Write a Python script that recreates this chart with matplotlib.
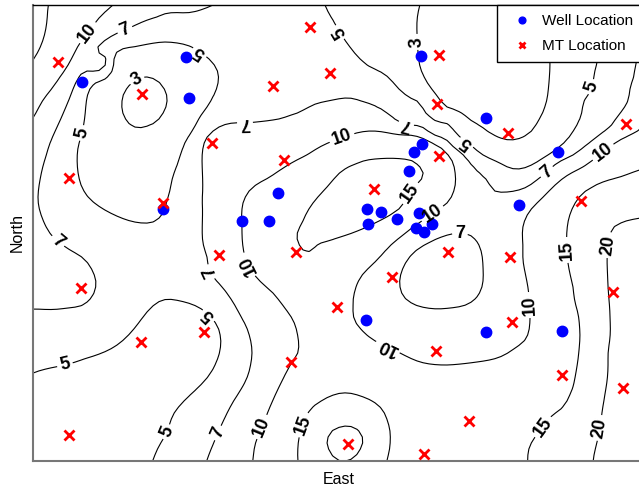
import numpy as np
import matplotlib.pyplot as plt

plt.rcParams['font.family'] = ['Liberation Sans', 'DejaVu Sans']

# station positions, east / north in grid units
well_east = [49, 153, 156, 130, 209, 236, 245, 388, 453, 525, 486, 389, 381,
             376, 334, 348, 335, 364, 386, 399, 383, 391, 333, 453, 529]
well_north = [379, 404, 363, 252, 240, 240, 268, 405, 343, 309, 256, 317, 309,
              290, 252, 249, 237, 242, 248, 237, 233, 229, 141, 129, 130]

mt_east = [277, 25, 240, 109, 179, 251, 36, 130, 297, 406, 404, 475, 593, 406,
           341, 548, 186, 263, 48, 171, 108, 258, 36, 415, 477, 359, 304, 580,
           479, 403, 529, 590, 436, 315, 391]
mt_north = [434, 399, 375, 367, 318, 301, 283, 258, 388, 406, 357, 328, 337, 305,
            272, 260, 206, 209, 173, 129, 119, 99, 26, 209, 204, 184, 154, 169,
            139, 110, 86, 73, 40, 17, 7]

levels = [3, 5, 7, 10, 15, 20]

# points picked along each contour line
line_3 = [(114, 384), (130, 374), (134, 361), (130, 348), (114, 335), (102, 334),
          (92, 343), (89, 358), (94, 373), (100, 379),
          (387, 456), (384, 428), (387, 394), (397, 374), (414, 354), (437, 341),
          (457, 328), (474, 321), (490, 324), (504, 338), (514, 361), (517, 394),
          (517, 421), (517, 456)]

line_5 = [(52, 346), (64, 379), (80, 401), (100, 414), (130, 419), (154, 416),
          (167, 409), (177, 401), (185, 388), (184, 374), (174, 354), (160, 331),
          (147, 304), (139, 281), (134, 261), (130, 248), (124, 241), (110, 238),
          (94, 241), (67, 254), (52, 268), (45, 288), (45, 314), (49, 328),
          (0, 88), (17, 93), (32, 96), (54, 103), (84, 116), (100, 131), (114, 149),
          (130, 161), (147, 160), (167, 153), (176, 146), (184, 136), (188, 119),
          (185, 103), (174, 83), (154, 63), (140, 46), (134, 29), (125, 13), (120, 1),
          (292, 456), (300, 441), (307, 429), (317, 414), (337, 394), (364, 374),
          (387, 358), (414, 338), (434, 319), (447, 308), (467, 298), (477, 293),
          (494, 294), (520, 309), (542, 333), (550, 358), (559, 374), (564, 398),
          (567, 421), (570, 444), (572, 456)]

line_7 = [(180, 456), (154, 448), (124, 444), (107, 438), (92, 431), (77, 424),
          (64, 408), (50, 389), (37, 364), (24, 334), (14, 308), (7, 281), (5, 261),
          (10, 241), (20, 224), (37, 211), (50, 203), (60, 189), (63, 179), (60, 166),
          (50, 156), (34, 153), (0, 152),
          (174, 1), (177, 9), (185, 28), (200, 59), (214, 83), (219, 106), (217, 123),
          (207, 146), (190, 173), (177, 189), (174, 204), (170, 218), (169, 261),
          (169, 304), (172, 321), (184, 333), (200, 338), (212, 338), (224, 339),
          (250, 343), (267, 349), (280, 356), (300, 361), (317, 363), (334, 358),
          (354, 348), (373, 336), (400, 326), (420, 314), (437, 298), (454, 281),
          (460, 271), (474, 269), (494, 274), (514, 289), (524, 298), (540, 306),
          (560, 321), (577, 334), (584, 344), (594, 358), (597, 368), (600, 381),
          (604, 401), (605, 416),
          (427, 228), (437, 226), (447, 214), (450, 194), (449, 174), (437, 158),
          (417, 153), (394, 153), (374, 161), (367, 174), (369, 191), (380, 208),
          (397, 219), (414, 226)]

line_10 = [(80, 456), (67, 444), (55, 428), (47, 418), (34, 394), (20, 374),
           (10, 361), (0, 343),
           (606, 331), (587, 321), (570, 309), (550, 294), (520, 274), (500, 254),
           (490, 234), (490, 216), (490, 201), (495, 174), (497, 156), (497, 141),
           (494, 124), (482, 113), (467, 104), (444, 99), (414, 96), (387, 99),
           (367, 108), (355, 114), (344, 119), (327, 133), (320, 146), (320, 163),
           (327, 183), (344, 201), (360, 218), (380, 234), (400, 248), (414, 258),
           (421, 271), (422, 288), (417, 304), (407, 314), (394, 321), (377, 326),
           (350, 329), (324, 328), (309, 323), (287, 314), (274, 306), (264, 301),
           (237, 284), (217, 271), (210, 258), (209, 234), (210, 214), (215, 196),
           (224, 183), (240, 168), (260, 141), (265, 123), (264, 106), (259, 99),
           (247, 76), (237, 54), (229, 34), (222, 16), (220, 1)]

line_15 = [(15, 456), (10, 421), (0, 401),
           (274, 209), (287, 218), (307, 224), (334, 234), (354, 244), (367, 253),
           (377, 268), (385, 278), (390, 284), (387, 294), (377, 301), (357, 303),
           (334, 301), (310, 291), (294, 274), (280, 258), (269, 238), (265, 231),
           (265, 218),
           (265, 0), (265, 14), (270, 36), (277, 51), (290, 61), (310, 68), (330, 64),
           (347, 54), (355, 38), (357, 21), (354, 1),
           (606, 291), (587, 284), (567, 278), (550, 268), (540, 254), (534, 231),
           (534, 211), (535, 198), (540, 174), (545, 148), (547, 124), (545, 101),
           (540, 74), (530, 54), (517, 44), (510, 34), (500, 21), (495, 8), (495, 0)]

line_20 = [(297, 28), (307, 34), (320, 34), (327, 29), (330, 21), (327, 11),
           (320, 3), (305, 1), (297, 9), (294, 19),
           (606, 243), (590, 239), (580, 233), (575, 216), (574, 203), (575, 174),
           (577, 141), (575, 108), (572, 68), (569, 49), (567, 33), (562, 11), (560, 0)]

# spot readings away from the lines
spot_east = [0, 112, 452, 447, 0, 67, 25, 0, 0, 237, 237, 87, 202, 160, 192,
             327, 297, 357, 307, 287, 247, 417, 417, 519, 557, 593, 606, 606, 587,
             447, 467, 367, 410, 267, 312, 606, 606, 367, 327, 540, 579, 347, 127, 67]
spot_north = [456, 358, 401, 351, 0, 41, 180, 320, 211, 456, 391, 201, 103, 261, 281,
              261, 241, 281, 161, 101, 21, 51, 11, 161, 161, 161, 111, 261, 306,
              241, 241, 131, 186, 326, 16, 0, 371, 401, 441, 401, 391, 371, 456, 401]
spot_value = [17.5, 2.2, 2.0, 2.6, 3.8, 4.0, 8.0, 8.3, 7.8, 6.0, 6.0, 6.0, 6.0, 6.0, 8.5,
              17.0, 16.5, 16.5, 12.0, 11.5, 12.5, 13.0, 13.5, 12.5, 17.5, 21.5, 22.5, 17.5, 12.5,
              7.8, 8.5, 8.5, 6.0, 8.5, 21.5, 22.0, 8.5, 4.0, 4.0, 4.0, 6.0, 6.0, 7.5, 8.5]

# contour labels: where they sit, and which ones read upside down
label_pos = [(55, 428), (92, 431), (104, 381), (167, 409), (49, 328), (22, 216),
             (32, 96), (176, 146), (134, 29), (185, 28), (229, 34), (270, 36),
             (177, 189), (215, 196), (212, 338), (309, 323), (377, 268), (399, 248),
             (427, 228), (355, 114), (497, 156), (510, 34), (534, 211), (567, 33),
             (575, 216), (373, 336), (307, 429), (383, 419), (434, 319), (514, 289),
             (570, 309), (559, 374)]
label_flip = [False, False, False, True, False, False,
              False, True, False, False, False, False,
              True, True, True, False, False, False,
              False, True, False, False, False, False,
              False, True, True, False, True, False,
              False, False]


def collect_points():
    xs, ys, vs = [], [], []
    for lev, pts in zip(levels, [line_3, line_5, line_7, line_10, line_15, line_20]):
        for e, n in pts:
            xs.append(e)
            ys.append(n)
            vs.append(lev)
    xs += spot_east
    ys += spot_north
    vs += spot_value
    return np.array(xs, float), np.array(ys, float), np.array(vs, float)


def tps_kernel(r):
    return np.where(r > 0, r ** 2 * np.log(np.maximum(r, 1e-12)), 0.0)


def tps_surface(x, y, v, gx, gy, smooth=1e-5):
    s = 600.0
    x, y = x / s, y / s
    n = len(x)
    K = tps_kernel(np.hypot(x[:, None] - x[None, :], y[:, None] - y[None, :]))
    K += smooth * np.eye(n)
    P = np.column_stack([np.ones(n), x, y])
    A = np.zeros((n + 3, n + 3))
    A[:n, :n] = K
    A[:n, n:] = P
    A[n:, :n] = P.T
    coef = np.linalg.solve(A, np.concatenate([v, np.zeros(3)]))
    w, a = coef[:n], coef[n:]
    qx, qy = gx.ravel() / s, gy.ravel() / s
    Kq = tps_kernel(np.hypot(qx[:, None] - x[None, :], qy[:, None] - y[None, :]))
    z = Kq @ w + a[0] + a[1] * qx + a[2] * qy
    return z.reshape(gx.shape)


px, py, pv = collect_points()
ge = np.linspace(0, 612, 103)
gn = np.linspace(0, 456, 77)
GE, GN = np.meshgrid(ge, gn)
Z = tps_surface(px, py, pv, GE, GN)

fig = plt.figure(figsize=(6.39, 4.9), dpi=100)
ax = fig.add_axes([33 / 639, 29 / 490, 612 / 639, 456 / 490])

cs = ax.contour(GE, GN, Z, levels=levels, colors='black', linewidths=0.8)
texts = cs.clabel(fmt='%d', fontsize=13, manual=label_pos, inline=True, inline_spacing=3)
for t, flip in zip(texts, label_flip):
    t.set_fontweight('bold')
    rot = t.get_rotation() % 360
    if flip:
        rot += 180
    elif 240 < rot < 300:
        # steep labels read upwards
        rot -= 180
    t.set_rotation(rot)

ax.plot(well_east, well_north, 'o', color='blue', ms=7.5, zorder=3, label='Well Location')
ax.plot(mt_east, mt_north, 'x', color='red', ms=6.5, mew=2, zorder=3, label='MT Location')

ax.set_xlim(0, 612)
ax.set_ylim(0, 456)
ax.set_xticks([])
ax.set_yticks([])
ax.spines['right'].set_visible(False)
ax.spines['top'].set_color('black')
ax.spines['top'].set_linewidth(1)
for side in ['left', 'bottom']:
    ax.spines[side].set_color('#777777')
    ax.spines[side].set_linewidth(1.5)

ax.set_xlabel('East', fontsize=11.5, labelpad=8)
ax.set_ylabel('North', fontsize=11.5, labelpad=6)

# box runs off the right edge of the figure
leg = ax.legend(loc='upper left', mode='expand',
                bbox_to_anchor=((497 - 33) / 612, 0.0, (655 - 497) / 612, 1.0),
                fontsize=11, markerscale=0.65, frameon=True, fancybox=False,
                borderaxespad=0, borderpad=0.6, handlelength=2.1, handletextpad=0.25,
                labelspacing=0.7)
leg.get_frame().set_edgecolor('black')
leg.get_frame().set_linewidth(1)
leg.get_frame().set_alpha(1)

plt.savefig('out.png', dpi=100)
